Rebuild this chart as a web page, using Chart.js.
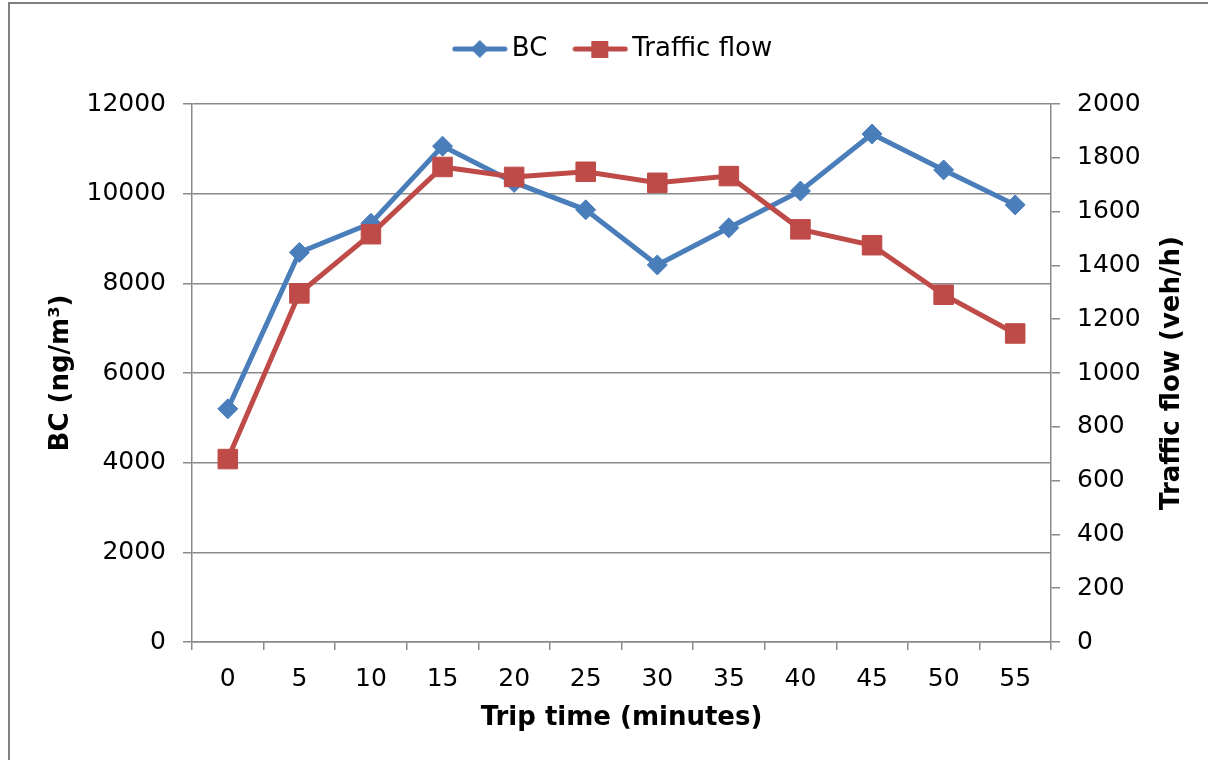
<!DOCTYPE html>
<html>
<head>
<meta charset="utf-8">
<script src="https://cdn.jsdelivr.net/npm/chart.js@4/dist/chart.umd.min.js"></script>
<style>
  html, body { margin: 0; padding: 0; background: #fff; }
  #wrap { width: 1208px; height: 760px; position: relative; }
</style>
</head>
<body>
<div id="wrap"><canvas id="tripChart" width="1208" height="760"></canvas></div>
<script>
// trip time categories (minutes)
const tripTimes = ['0', '5', '10', '15', '20', '25', '30', '35', '40', '45', '50', '55'];
// black carbon, ng/m3 (left axis)
const bcValues = [5200, 8690, 9340, 11060, 10250, 9640, 8410, 9240, 10060, 11330, 10530, 9750];
// traffic flow, veh/h (right axis)
const trafficValues = [680, 1296, 1516, 1766, 1729, 1748, 1707, 1732, 1534, 1475, 1291, 1147];

const blue = '#4a7ebb';
const red = '#be4b48';
const gridGrey = '#8a8a8a';
const font = 'DejaVu Sans';
const rightTitle = 'Traffic flow (veh/h)';

// legend swatch: a short line with the marker in its middle
function legendSwatch(color, shape) {
    const c = document.createElement('canvas');
    c.width = 56;
    c.height = 20;
    const g = c.getContext('2d');
    g.strokeStyle = color;
    g.lineWidth = 5;
    g.lineCap = 'round';
    g.beginPath();
    g.moveTo(3, 10);
    g.lineTo(53, 10);
    g.stroke();
    g.fillStyle = color;
    g.beginPath();
    if (shape === 'diamond') {
        g.moveTo(28, 1); g.lineTo(37, 10); g.lineTo(28, 19); g.lineTo(19, 10);
    } else {
        g.rect(19, 2, 17, 17);
    }
    g.fill();
    return c;
}

const legendHeight = {
    id: 'legendHeight',
    beforeInit(chart) {
        const fit = chart.legend.fit;
        chart.legend.fit = function () {
            fit.call(this);
            this.height = 102;
        };
    }
};

// outer frame plus the right-hand title, which reads bottom to top like the left one
const extras = {
    id: 'extras',
    afterDraw(chart) {
        const ctx = chart.ctx;
        const area = chart.chartArea;
        ctx.save();
        ctx.strokeStyle = '#808080';
        ctx.lineWidth = 2;
        ctx.strokeRect(9, 3, 1300, 900);
        ctx.translate(1172, (area.top + area.bottom) / 2);
        ctx.rotate(-Math.PI / 2);
        ctx.fillStyle = '#000';
        ctx.font = 'bold 26px "' + font + '"';
        ctx.textAlign = 'center';
        ctx.textBaseline = 'middle';
        ctx.fillText(rightTitle, 0, 0);
        ctx.restore();
    }
};

const plain = v => String(v);

new Chart(document.getElementById('tripChart'), {
    type: 'line',
    data: {
        labels: tripTimes,
        datasets: [{
            label: 'BC',
            data: bcValues,
            yAxisID: 'y',
            borderColor: blue,
            backgroundColor: blue,
            borderWidth: 5,
            pointStyle: 'rectRot',
            pointRadius: 10,
            pointBorderWidth: 1,
            pointHoverRadius: 10,
            tension: 0,
            order: 1
        }, {
            label: 'Traffic flow',
            data: trafficValues,
            yAxisID: 'y1',
            borderColor: red,
            backgroundColor: red,
            borderWidth: 5,
            pointStyle: 'rect',
            pointRadius: 13.8,
            pointBorderWidth: 1,
            pointHoverRadius: 13.8,
            tension: 0,
            order: 0
        }]
    },
    options: {
        responsive: false,
        animation: false,
        layout: { padding: { top: 2, left: 46, right: 21, bottom: 26 } },
        plugins: {
            legend: {
                position: 'top',
                labels: {
                    color: '#000',
                    font: { family: font, size: 26 },
                    padding: 34,
                    usePointStyle: true,
                    pointStyleWidth: 38,
                    generateLabels: () => [
                        { text: 'BC', pointStyle: legendSwatch(blue, 'diamond'), fontColor: '#000', lineWidth: 0, datasetIndex: 0 },
                        { text: 'Traffic flow', pointStyle: legendSwatch(red, 'square'), fontColor: '#000', lineWidth: 0, datasetIndex: 1 }
                    ]
                }
            },
            tooltip: { enabled: false }
        },
        scales: {
            x: {
                offset: true,
                grid: { offset: true, drawOnChartArea: false, color: gridGrey, lineWidth: 1.5, tickLength: 8 },
                border: { color: gridGrey, width: 1.5 },
                ticks: { color: '#000', font: { family: font, size: 25 }, padding: 14, maxRotation: 0 },
                title: { display: true, text: 'Trip time (minutes)', color: '#000', padding: 0,
                         font: { family: font, size: 26, weight: 'bold' } },
                afterFit(scale) { scale.height = 92; }
            },
            y: {
                position: 'left',
                min: 0,
                max: 12000,
                ticks: { stepSize: 2000, color: '#000', font: { family: font, size: 25 }, padding: 17, callback: plain },
                grid: { color: gridGrey, lineWidth: 1.5, tickLength: 9 },
                border: { color: gridGrey, width: 1.5 },
                title: { display: true, text: 'BC (ng/m³)', color: '#000', padding: 0,
                         font: { family: font, size: 26, weight: 'bold' } },
                afterFit(scale) { scale.width = 146; }
            },
            y1: {
                position: 'right',
                min: 0,
                max: 2000,
                ticks: { stepSize: 200, color: '#000', font: { family: font, size: 25 }, padding: 17, callback: plain },
                grid: { drawOnChartArea: false, color: gridGrey, lineWidth: 1.5, tickLength: 9 },
                border: { color: gridGrey, width: 1.5 },
                afterFit(scale) { scale.width = 136; }
            }
        }
    },
    plugins: [legendHeight, extras]
});
</script>
</body>
</html>
